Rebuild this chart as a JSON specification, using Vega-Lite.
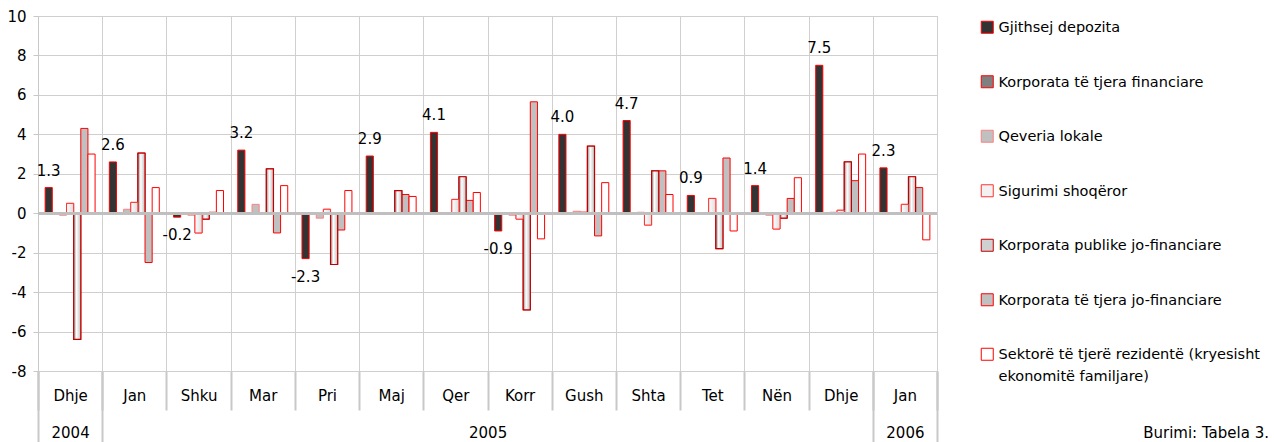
{
  "$schema": "https://vega.github.io/schema/vega-lite/v6.json",
  "width": 899,
  "height": 355,
  "autosize": {"type": "none"},
  "padding": {"left": 38, "top": 16, "right": 337, "bottom": 71},
  "background": "white",
  "config": {
    "font": "DejaVu Sans",
    "view": {"stroke": "#c8c8c8", "strokeWidth": 1},
    "locale": {"number": {"decimal": ".", "thousands": ",", "grouping": [3], "currency": ["", ""], "minus": "-"}}
  },
  "data": {"values": [
    {"m": "Dhje 2004", "s": "Gjithsej depozita", "v": 1.3},
    {"m": "Dhje 2004", "s": "Korporata të tjera financiare", "v": 0},
    {"m": "Dhje 2004", "s": "Qeveria lokale", "v": -0.1},
    {"m": "Dhje 2004", "s": "Sigurimi shoqëror", "v": 0.5},
    {"m": "Dhje 2004", "s": "Korporata publike jo-financiare", "v": -6.4},
    {"m": "Dhje 2004", "s": "Korporata të tjera jo-financiare", "v": 4.3},
    {"m": "Dhje 2004", "s": "Sektorë të tjerë rezidentë (kryesisht ekonomitë familjare)", "v": 3.0},
    {"m": "Jan 2005", "s": "Gjithsej depozita", "v": 2.6},
    {"m": "Jan 2005", "s": "Korporata të tjera financiare", "v": 0},
    {"m": "Jan 2005", "s": "Qeveria lokale", "v": 0.2},
    {"m": "Jan 2005", "s": "Sigurimi shoqëror", "v": 0.55},
    {"m": "Jan 2005", "s": "Korporata publike jo-financiare", "v": 3.05},
    {"m": "Jan 2005", "s": "Korporata të tjera jo-financiare", "v": -2.5},
    {"m": "Jan 2005", "s": "Sektorë të tjerë rezidentë (kryesisht ekonomitë familjare)", "v": 1.3},
    {"m": "Shku 2005", "s": "Gjithsej depozita", "v": -0.2},
    {"m": "Shku 2005", "s": "Korporata të tjera financiare", "v": 0},
    {"m": "Shku 2005", "s": "Qeveria lokale", "v": -0.1},
    {"m": "Shku 2005", "s": "Sigurimi shoqëror", "v": -1.0},
    {"m": "Shku 2005", "s": "Korporata publike jo-financiare", "v": -0.3},
    {"m": "Shku 2005", "s": "Korporata të tjera jo-financiare", "v": 0.05},
    {"m": "Shku 2005", "s": "Sektorë të tjerë rezidentë (kryesisht ekonomitë familjare)", "v": 1.15},
    {"m": "Mar 2005", "s": "Gjithsej depozita", "v": 3.2},
    {"m": "Mar 2005", "s": "Korporata të tjera financiare", "v": 0},
    {"m": "Mar 2005", "s": "Qeveria lokale", "v": 0.45},
    {"m": "Mar 2005", "s": "Sigurimi shoqëror", "v": 0},
    {"m": "Mar 2005", "s": "Korporata publike jo-financiare", "v": 2.25},
    {"m": "Mar 2005", "s": "Korporata të tjera jo-financiare", "v": -1.0},
    {"m": "Mar 2005", "s": "Sektorë të tjerë rezidentë (kryesisht ekonomitë familjare)", "v": 1.4},
    {"m": "Pri 2005", "s": "Gjithsej depozita", "v": -2.3},
    {"m": "Pri 2005", "s": "Korporata të tjera financiare", "v": 0},
    {"m": "Pri 2005", "s": "Qeveria lokale", "v": -0.25},
    {"m": "Pri 2005", "s": "Sigurimi shoqëror", "v": 0.2},
    {"m": "Pri 2005", "s": "Korporata publike jo-financiare", "v": -2.6},
    {"m": "Pri 2005", "s": "Korporata të tjera jo-financiare", "v": -0.85},
    {"m": "Pri 2005", "s": "Sektorë të tjerë rezidentë (kryesisht ekonomitë familjare)", "v": 1.15},
    {"m": "Maj 2005", "s": "Gjithsej depozita", "v": 2.9},
    {"m": "Maj 2005", "s": "Korporata të tjera financiare", "v": 0},
    {"m": "Maj 2005", "s": "Qeveria lokale", "v": -0.05},
    {"m": "Maj 2005", "s": "Sigurimi shoqëror", "v": 0},
    {"m": "Maj 2005", "s": "Korporata publike jo-financiare", "v": 1.15},
    {"m": "Maj 2005", "s": "Korporata të tjera jo-financiare", "v": 0.95},
    {"m": "Maj 2005", "s": "Sektorë të tjerë rezidentë (kryesisht ekonomitë familjare)", "v": 0.85},
    {"m": "Qer 2005", "s": "Gjithsej depozita", "v": 4.1},
    {"m": "Qer 2005", "s": "Korporata të tjera financiare", "v": 0},
    {"m": "Qer 2005", "s": "Qeveria lokale", "v": -0.05},
    {"m": "Qer 2005", "s": "Sigurimi shoqëror", "v": 0.7},
    {"m": "Qer 2005", "s": "Korporata publike jo-financiare", "v": 1.85},
    {"m": "Qer 2005", "s": "Korporata të tjera jo-financiare", "v": 0.65},
    {"m": "Qer 2005", "s": "Sektorë të tjerë rezidentë (kryesisht ekonomitë familjare)", "v": 1.05},
    {"m": "Korr 2005", "s": "Gjithsej depozita", "v": -0.9},
    {"m": "Korr 2005", "s": "Korporata të tjera financiare", "v": 0},
    {"m": "Korr 2005", "s": "Qeveria lokale", "v": -0.1},
    {"m": "Korr 2005", "s": "Sigurimi shoqëror", "v": -0.3},
    {"m": "Korr 2005", "s": "Korporata publike jo-financiare", "v": -4.9},
    {"m": "Korr 2005", "s": "Korporata të tjera jo-financiare", "v": 5.65},
    {"m": "Korr 2005", "s": "Sektorë të tjerë rezidentë (kryesisht ekonomitë familjare)", "v": -1.3},
    {"m": "Gush 2005", "s": "Gjithsej depozita", "v": 4.0},
    {"m": "Gush 2005", "s": "Korporata të tjera financiare", "v": 0},
    {"m": "Gush 2005", "s": "Qeveria lokale", "v": 0.1},
    {"m": "Gush 2005", "s": "Sigurimi shoqëror", "v": 0.05},
    {"m": "Gush 2005", "s": "Korporata publike jo-financiare", "v": 3.4},
    {"m": "Gush 2005", "s": "Korporata të tjera jo-financiare", "v": -1.15},
    {"m": "Gush 2005", "s": "Sektorë të tjerë rezidentë (kryesisht ekonomitë familjare)", "v": 1.55},
    {"m": "Shta 2005", "s": "Gjithsej depozita", "v": 4.7},
    {"m": "Shta 2005", "s": "Korporata të tjera financiare", "v": 0},
    {"m": "Shta 2005", "s": "Qeveria lokale", "v": 0.05},
    {"m": "Shta 2005", "s": "Sigurimi shoqëror", "v": -0.6},
    {"m": "Shta 2005", "s": "Korporata publike jo-financiare", "v": 2.15},
    {"m": "Shta 2005", "s": "Korporata të tjera jo-financiare", "v": 2.15},
    {"m": "Shta 2005", "s": "Sektorë të tjerë rezidentë (kryesisht ekonomitë familjare)", "v": 0.95},
    {"m": "Tet 2005", "s": "Gjithsej depozita", "v": 0.9},
    {"m": "Tet 2005", "s": "Korporata të tjera financiare", "v": 0},
    {"m": "Tet 2005", "s": "Qeveria lokale", "v": 0},
    {"m": "Tet 2005", "s": "Sigurimi shoqëror", "v": 0.75},
    {"m": "Tet 2005", "s": "Korporata publike jo-financiare", "v": -1.8},
    {"m": "Tet 2005", "s": "Korporata të tjera jo-financiare", "v": 2.8},
    {"m": "Tet 2005", "s": "Sektorë të tjerë rezidentë (kryesisht ekonomitë familjare)", "v": -0.9},
    {"m": "Nën 2005", "s": "Gjithsej depozita", "v": 1.4},
    {"m": "Nën 2005", "s": "Korporata të tjera financiare", "v": 0},
    {"m": "Nën 2005", "s": "Qeveria lokale", "v": -0.1},
    {"m": "Nën 2005", "s": "Sigurimi shoqëror", "v": -0.8},
    {"m": "Nën 2005", "s": "Korporata publike jo-financiare", "v": -0.25},
    {"m": "Nën 2005", "s": "Korporata të tjera jo-financiare", "v": 0.75},
    {"m": "Nën 2005", "s": "Sektorë të tjerë rezidentë (kryesisht ekonomitë familjare)", "v": 1.8},
    {"m": "Dhje 2005", "s": "Gjithsej depozita", "v": 7.5},
    {"m": "Dhje 2005", "s": "Korporata të tjera financiare", "v": 0},
    {"m": "Dhje 2005", "s": "Qeveria lokale", "v": 0.05},
    {"m": "Dhje 2005", "s": "Sigurimi shoqëror", "v": 0.15},
    {"m": "Dhje 2005", "s": "Korporata publike jo-financiare", "v": 2.6},
    {"m": "Dhje 2005", "s": "Korporata të tjera jo-financiare", "v": 1.65},
    {"m": "Dhje 2005", "s": "Sektorë të tjerë rezidentë (kryesisht ekonomitë familjare)", "v": 3.0},
    {"m": "Jan 2006", "s": "Gjithsej depozita", "v": 2.3},
    {"m": "Jan 2006", "s": "Korporata të tjera financiare", "v": 0},
    {"m": "Jan 2006", "s": "Qeveria lokale", "v": -0.02},
    {"m": "Jan 2006", "s": "Sigurimi shoqëror", "v": 0.45},
    {"m": "Jan 2006", "s": "Korporata publike jo-financiare", "v": 1.85},
    {"m": "Jan 2006", "s": "Korporata të tjera jo-financiare", "v": 1.3},
    {"m": "Jan 2006", "s": "Sektorë të tjerë rezidentë (kryesisht ekonomitë familjare)", "v": -1.35}
  ]},
  "layer": [
    {
      "mark": {"type": "bar"},
      "encoding": {
        "x": {
          "field": "m", "type": "nominal",
          "scale": {"domain": ["Dhje 2004", "Jan 2005", "Shku 2005", "Mar 2005", "Pri 2005", "Maj 2005", "Qer 2005", "Korr 2005", "Gush 2005", "Shta 2005", "Tet 2005", "Nën 2005", "Dhje 2005", "Jan 2006"], "paddingInner": 0, "paddingOuter": 0},
          "axis": {"title": null, "orient": "bottom", "tickBand": "extent", "grid": true, "gridColor": "#d0d0d0", "gridWidth": 1, "ticks": true, "tickSize": 39, "tickColor": "#c8c8c8", "tickWidth": 2, "labelPadding": -22, "labelExpr": "datum.value ? split(datum.value, ' ')[0] : ''", "labelFontSize": 15, "labelColor": "#000000", "labelAngle": 0, "labelOverlap": false, "domain": false}
        },
        "xOffset": {
          "field": "s", "type": "nominal",
          "scale": {"domain": ["Gjithsej depozita", "Korporata të tjera financiare", "Qeveria lokale", "Sigurimi shoqëror", "Korporata publike jo-financiare", "Korporata të tjera jo-financiare", "Sektorë të tjerë rezidentë (kryesisht ekonomitë familjare)"], "paddingInner": 0, "paddingOuter": 1.4}
        },
        "y": {
          "field": "v", "type": "quantitative",
          "scale": {"domain": [-8, 10], "nice": false, "zero": false},
          "axis": {"title": null, "values": [-8, -6, -4, -2, 0, 2, 4, 6, 8, 10], "grid": true, "gridColor": "#cfcfcf", "gridWidth": 1.2, "tickSize": 5, "tickColor": "#c8c8c8", "domain": true, "domainColor": "#c8c8c8", "labelFontSize": 15, "labelColor": "#000000", "labelPadding": 7, "labelOverlap": false, "labelFlush": false}
        },
        "fill": {
          "field": "s", "type": "nominal", "title": "Burimi: Tabela 3.",
          "scale": {"domain": ["Gjithsej depozita", "Korporata të tjera financiare", "Qeveria lokale", "Sigurimi shoqëror", "Korporata publike jo-financiare", "Korporata të tjera jo-financiare", "Sektorë të tjerë rezidentë (kryesisht ekonomitë familjare)"], "range": ["#333333", "#808080", "#c0c0c0", "#f2f2f2", "#d0d0d0", "#c0c0c0", "#ffffff"]},
          "legend": {"orient": "none", "legendX": 942, "legendY": 4, "direction": "vertical", "symbolType": "square", "symbolSize": 144, "labelFontSize": 14.5, "labelLimit": 320, "rowPadding": 37.5, "labelOffset": 4, "labelBaseline": "alphabetic", "titleOrient": "bottom", "titleAnchor": "end", "titleFontSize": 15, "titleFontWeight": "normal", "titlePadding": 42, "labelExpr": "indexof(datum.label, 'Sektor') == 0 ? ['Sektorë të tjerë rezidentë (kryesisht', 'ekonomitë familjare)'] : datum.label", "encode": {"labels": {"update": {"dy": {"value": 5}, "lineHeight": {"value": 22}}}, "title": {"update": {"dx": {"value": 9}}}}}
        },
        "stroke": {
          "field": "s", "type": "nominal", "title": "Burimi: Tabela 3.",
          "scale": {"domain": ["Gjithsej depozita", "Korporata të tjera financiare", "Qeveria lokale", "Sigurimi shoqëror", "Korporata publike jo-financiare", "Korporata të tjera jo-financiare", "Sektorë të tjerë rezidentë (kryesisht ekonomitë familjare)"], "range": ["#ff0000", "#ff0000", "#ff8080", "#ff3333", "#c00000", "#ff0000", "#ff0000"]},
          "legend": {"orient": "none", "legendX": 942, "legendY": 4, "direction": "vertical", "symbolType": "square", "symbolSize": 144, "labelFontSize": 14.5, "labelLimit": 320, "rowPadding": 37.5, "labelOffset": 4, "labelBaseline": "alphabetic", "titleOrient": "bottom", "titleAnchor": "end", "titleFontSize": 15, "titleFontWeight": "normal", "titlePadding": 42, "labelExpr": "indexof(datum.label, 'Sektor') == 0 ? ['Sektorë të tjerë rezidentë (kryesisht', 'ekonomitë familjare)'] : datum.label", "encode": {"labels": {"update": {"dy": {"value": 5}, "lineHeight": {"value": 22}}}, "title": {"update": {"dx": {"value": 9}}}}}
        },
        "strokeWidth": {
          "field": "s", "type": "nominal", "title": "Burimi: Tabela 3.",
          "scale": {"domain": ["Gjithsej depozita", "Korporata të tjera financiare", "Qeveria lokale", "Sigurimi shoqëror", "Korporata publike jo-financiare", "Korporata të tjera jo-financiare", "Sektorë të tjerë rezidentë (kryesisht ekonomitë familjare)"], "range": [1, 1, 1, 1, 1.2, 2.5, 2.5]},
          "legend": {"orient": "none", "legendX": 942, "legendY": 4, "direction": "vertical", "symbolType": "square", "symbolSize": 144, "labelFontSize": 14.5, "labelLimit": 320, "rowPadding": 37.5, "labelOffset": 4, "labelBaseline": "alphabetic", "titleOrient": "bottom", "titleAnchor": "end", "titleFontSize": 15, "titleFontWeight": "normal", "titlePadding": 42, "labelExpr": "indexof(datum.label, 'Sektor') == 0 ? ['Sektorë të tjerë rezidentë (kryesisht', 'ekonomitë familjare)'] : datum.label", "encode": {"labels": {"update": {"dy": {"value": 5}, "lineHeight": {"value": 22}}}, "title": {"update": {"dx": {"value": 9}}}}}
        }
      }
    },
    {
      "transform": [{"filter": "datum.s == 'Korporata publike jo-financiare'"}],
      "mark": {"type": "bar", "stroke": "#c00000", "strokeWidth": 1.2, "fill": {"gradient": "linear", "x1": 0, "x2": 1, "y1": 0, "y2": 0, "stops": [{"offset": 0, "color": "#8c8c8c"}, {"offset": 0.4, "color": "#ffffff"}, {"offset": 1, "color": "#bdbdbd"}]}},
      "encoding": {
        "x": {"field": "m", "type": "nominal", "axis": null},
        "xOffset": {"field": "s", "type": "nominal"},
        "y": {"field": "v", "type": "quantitative",
          "axis": {"title": null, "values": [-8, -6, -4, -2, 0, 2, 4, 6, 8, 10], "grid": true, "gridColor": "#cfcfcf", "gridWidth": 1.2, "tickSize": 5, "tickColor": "#c8c8c8", "domain": true, "domainColor": "#c8c8c8", "labelFontSize": 15, "labelColor": "#000000", "labelPadding": 7, "labelOverlap": false, "labelFlush": false}}
      }
    },
    {
      "transform": [{"filter": "datum.s == 'Sigurimi shoqëror'"}],
      "mark": {"type": "bar", "stroke": "#ff3333", "strokeWidth": 1, "fill": {"gradient": "linear", "x1": 0, "x2": 1, "y1": 0, "y2": 0, "stops": [{"offset": 0, "color": "#ffffff"}, {"offset": 1, "color": "#dcdcdc"}]}},
      "encoding": {
        "x": {"field": "m", "type": "nominal", "axis": null},
        "xOffset": {"field": "s", "type": "nominal"},
        "y": {"field": "v", "type": "quantitative",
          "axis": {"title": null, "values": [-8, -6, -4, -2, 0, 2, 4, 6, 8, 10], "grid": true, "gridColor": "#cfcfcf", "gridWidth": 1.2, "tickSize": 5, "tickColor": "#c8c8c8", "domain": true, "domainColor": "#c8c8c8", "labelFontSize": 15, "labelColor": "#000000", "labelPadding": 7, "labelOverlap": false, "labelFlush": false}}
      }
    },
    {
      "transform": [{"filter": "datum.s == 'Gjithsej depozita' && datum.v >= 0"}],
      "mark": {"type": "text", "baseline": "bottom", "dy": -9, "fontSize": 15, "color": "#000000"},
      "encoding": {
        "x": {
          "field": "m", "type": "nominal",
          "axis": {"title": null, "orient": "bottom", "tickBand": "extent", "grid": false, "domain": false, "tickSize": 71, "tickColor": "#c8c8c8", "tickWidth": 2,
            "tickOpacity": {"condition": {"test": "!datum.value || indexof(['Dhje 2004', 'Dhje 2005', 'Jan 2006'], datum.value) >= 0", "value": 1}, "value": 0},
            "labelExpr": "datum.value == 'Dhje 2004' ? '2004' : datum.value == 'Korr 2005' ? '2005' : datum.value == 'Jan 2006' ? '2006' : ''",
            "labelOffset": {"condition": {"test": "datum.value == 'Korr 2005'", "value": -32}, "value": 0},
            "labelPadding": -17, "labelFontSize": 15, "labelColor": "#000000", "labelAngle": 0, "labelOverlap": false}
        },
        "xOffset": {"field": "s", "type": "nominal"},
        "y": {"field": "v", "type": "quantitative",
          "axis": {"title": null, "values": [-8, -6, -4, -2, 0, 2, 4, 6, 8, 10], "grid": true, "gridColor": "#cfcfcf", "gridWidth": 1.2, "tickSize": 5, "tickColor": "#c8c8c8", "domain": true, "domainColor": "#c8c8c8", "labelFontSize": 15, "labelColor": "#000000", "labelPadding": 7, "labelOverlap": false, "labelFlush": false}},
        "text": {"field": "v", "type": "quantitative", "format": ".1f"}
      }
    },
    {
      "transform": [{"filter": "datum.s == 'Gjithsej depozita' && datum.v < 0"}],
      "mark": {"type": "text", "baseline": "top", "dy": 11, "fontSize": 15, "color": "#000000"},
      "encoding": {
        "x": {"field": "m", "type": "nominal", "axis": null},
        "xOffset": {"field": "s", "type": "nominal"},
        "y": {"field": "v", "type": "quantitative",
          "axis": {"title": null, "values": [-8, -6, -4, -2, 0, 2, 4, 6, 8, 10], "grid": true, "gridColor": "#cfcfcf", "gridWidth": 1.2, "tickSize": 5, "tickColor": "#c8c8c8", "domain": true, "domainColor": "#c8c8c8", "labelFontSize": 15, "labelColor": "#000000", "labelPadding": 7, "labelOverlap": false, "labelFlush": false}},
        "text": {"field": "v", "type": "quantitative", "format": ".1f"}
      }
    },
    {
      "mark": {"type": "rule", "color": "#bfbfbf", "strokeWidth": 2},
      "encoding": {"y": {"datum": 0, "type": "quantitative",
          "axis": {"title": null, "values": [-8, -6, -4, -2, 0, 2, 4, 6, 8, 10], "grid": true, "gridColor": "#cfcfcf", "gridWidth": 1.2, "tickSize": 5, "tickColor": "#c8c8c8", "domain": true, "domainColor": "#c8c8c8", "labelFontSize": 15, "labelColor": "#000000", "labelPadding": 7, "labelOverlap": false, "labelFlush": false}}}
    }
  ],
  "resolve": {"axis": {"x": "independent"}}
}
